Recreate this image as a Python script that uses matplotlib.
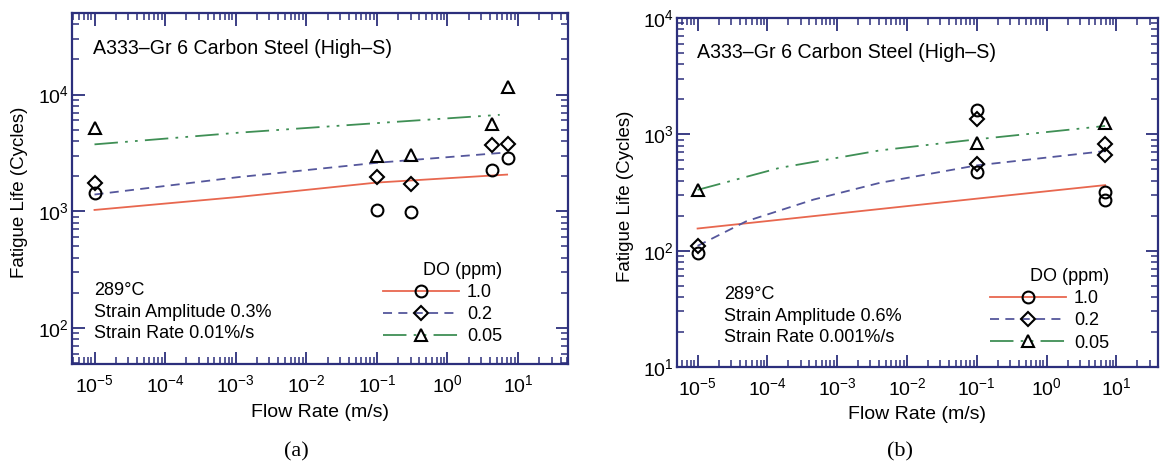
import matplotlib
matplotlib.use("Agg")
import matplotlib.pyplot as plt

plt.rcParams['font.family'] = ['Liberation Sans', 'DejaVu Sans']
plt.rcParams['mathtext.fontset'] = 'custom'
plt.rcParams['mathtext.rm'] = 'Liberation Sans'
plt.rcParams['mathtext.it'] = 'Liberation Sans:italic'
plt.rcParams['mathtext.bf'] = 'Liberation Sans:bold'

# (a) strain amplitude 0.3%, strain rate 0.01%/s
flow_a = [1e-5, 0.1, 0.3, 4.3, 7.1]
life_a_do10 = [1420, 1030, 975, 2240, 2880]
life_a_do02 = [1750, 1960, 1710, 3710, 3800]
life_a_do005 = [5150, 2950, 3010, 5600, 11500]

# model curves (a)
fit_a_x = [1e-5, 1.1e-3, 0.1, 7.0]
fit_a_do10 = [1025, 1325, 1760, 2060]
fit_a_do02 = [1390, 1960, 2600, 3190]
fit_a_x005 = [1e-5, 1.1e-3, 0.1, 5.5]
fit_a_do005 = [3740, 4710, 5690, 6700]

# (b) strain amplitude 0.6%, strain rate 0.001%/s
flow_b_do10 = [1e-5, 0.1, 0.1, 6.9, 6.9]
life_b_do10 = [95, 1610, 473, 320, 275]
flow_b_do02 = [1e-5, 0.1, 0.1, 6.9, 6.9]
life_b_do02 = [109, 1345, 551, 820, 664]
flow_b_do005 = [1e-5, 0.1, 6.9]
life_b_do005 = [335, 850, 1240]

# model curves (b)
fit_b_x = [1e-5, 0.1, 6.9]
fit_b_do10 = [155, 280, 366]
fit_b_x02 = [1e-5, 5e-5, 4.6e-4, 4.1e-3, 0.1, 6.9]
fit_b_do02 = [110, 179, 275, 383, 541, 718]
fit_b_x005 = [1e-5, 1.5e-4, 4.1e-3, 0.1, 6.9]
fit_b_do005 = [333, 515, 728, 906, 1180]

do_labels = ['1.0', '0.2', '0.05']

navy = '#2c2f7c'
c_red = '#e8674f'
c_blue = '#55579c'
c_green = '#3f8f55'
green_dash = (13, 4, 1.5, 4, 1.5, 4)
blue_dash = (5, 3.5)

W, H = 1160, 466
fig = plt.figure(figsize=(W / 100, H / 100), dpi=100)
ax_a = fig.add_axes([72 / W, 1 - 364 / H, 496 / W, 351 / H])
ax_b = fig.add_axes([677 / W, 1 - 367 / H, 481 / W, 349 / H])


def style_axes(ax):
    ax.set_xscale('log')
    ax.set_yscale('log')
    for s in ax.spines.values():
        s.set_color(navy)
        s.set_linewidth(1.6)
    ax.tick_params(which='both', direction='in', top=True, right=True,
                   color=navy, labelsize=14)
    ax.tick_params(which='major', length=9, width=1.3)
    ax.tick_params(which='minor', length=5, width=1.1)
    ax.tick_params(axis='x', pad=7)
    ax.tick_params(axis='y', pad=2)
    ax.set_xlabel('Flow Rate (m/s)', fontsize=14)
    ax.set_ylabel('Fatigue Life (Cycles)', fontsize=13.5)
    ax.text(0.042, 0.9, 'A333\u2013Gr 6 Carbon Steel (High\u2013S)',
            transform=ax.transAxes, fontsize=14.1, va='center')


def draw_panel(ax, fits, points):
    mk = dict(fillstyle='none', markeredgecolor='k', markeredgewidth=1.5,
              linestyle='none')
    # curves
    (x1, y1), (x2, y2), (x3, y3) = fits
    ax.plot(x1, y1, color=c_red, lw=1.3)
    ax.plot(x2, y2, color=c_blue, lw=1.3, dashes=blue_dash)
    ax.plot(x3, y3, color=c_green, lw=1.3, dashes=green_dash)
    (px1, py1), (px2, py2), (px3, py3) = points
    ax.plot(px1, py1, marker='o', markersize=8.5, **mk)
    ax.plot(px2, py2, marker='D', markersize=7, **mk)
    ax.plot(px3, py3, marker='^', markersize=9, **mk)
    # legend handles
    h1, = ax.plot([], [], color=c_red, lw=1.3, marker='o', markersize=8.5,
                  fillstyle='none', markeredgecolor='k', markeredgewidth=1.5)
    h2, = ax.plot([], [], color=c_blue, lw=1.3, dashes=blue_dash, marker='D',
                  markersize=7, fillstyle='none', markeredgecolor='k',
                  markeredgewidth=1.5)
    h3, = ax.plot([], [], color=c_green, lw=1.3, dashes=green_dash, marker='^',
                  markersize=9, fillstyle='none', markeredgecolor='k',
                  markeredgewidth=1.5)
    return [h1, h2, h3]


style_axes(ax_a)
hs = draw_panel(ax_a,
                [(fit_a_x, fit_a_do10), (fit_a_x, fit_a_do02),
                 (fit_a_x005, fit_a_do005)],
                [(flow_a, life_a_do10), (flow_a, life_a_do02),
                 (flow_a, life_a_do005)])
ax_a.set_xlim(4.8e-6, 51)
ax_a.set_ylim(49, 5e4)
ax_a.xaxis.set_label_coords(0.5, -0.115)
ax_a.yaxis.set_label_coords(-0.089, 0.49)
ax_a.text(0.044, 0.148, '289\u00b0C\nStrain Amplitude 0.3%\nStrain Rate 0.01%/s',
          transform=ax_a.transAxes, fontsize=13, va='center', linespacing=1.32)
ax_a.legend(hs, do_labels, title='DO (ppm)', loc='upper left',
            bbox_to_anchor=(0.627, 0.29), frameon=False, fontsize=13,
            title_fontsize=13, borderpad=0, borderaxespad=0,
            handlelength=4.2, handletextpad=0.45, labelspacing=0.27,
            alignment='right')

style_axes(ax_b)
hs = draw_panel(ax_b,
                [(fit_b_x, fit_b_do10), (fit_b_x02, fit_b_do02),
                 (fit_b_x005, fit_b_do005)],
                [(flow_b_do10, life_b_do10), (flow_b_do02, life_b_do02),
                 (flow_b_do005, life_b_do005)])
ax_b.set_xlim(5.07e-6, 39.5)
ax_b.set_ylim(10, 1e4)
ax_b.xaxis.set_label_coords(0.5, -0.112)
ax_b.yaxis.set_label_coords(-0.089, 0.49)
ax_b.text(0.098, 0.146, '289\u00b0C\nStrain Amplitude 0.6%\nStrain Rate 0.001%/s',
          transform=ax_b.transAxes, fontsize=13, va='center', linespacing=1.32)
ax_b.legend(hs, do_labels, title='DO (ppm)', loc='upper left',
            bbox_to_anchor=(0.651, 0.285), frameon=False, fontsize=13,
            title_fontsize=13, borderpad=0, borderaxespad=0,
            handlelength=4.2, handletextpad=0.45, labelspacing=0.3,
            alignment='right')

fig.text(296 / W, 1 - 452 / H, '(a)', fontsize=16, family='Liberation Serif',
         ha='center', va='center')
fig.text(900 / W, 1 - 452 / H, '(b)', fontsize=16, family='Liberation Serif',
         ha='center', va='center')

fig.savefig('out.png', dpi=100, facecolor='white')
